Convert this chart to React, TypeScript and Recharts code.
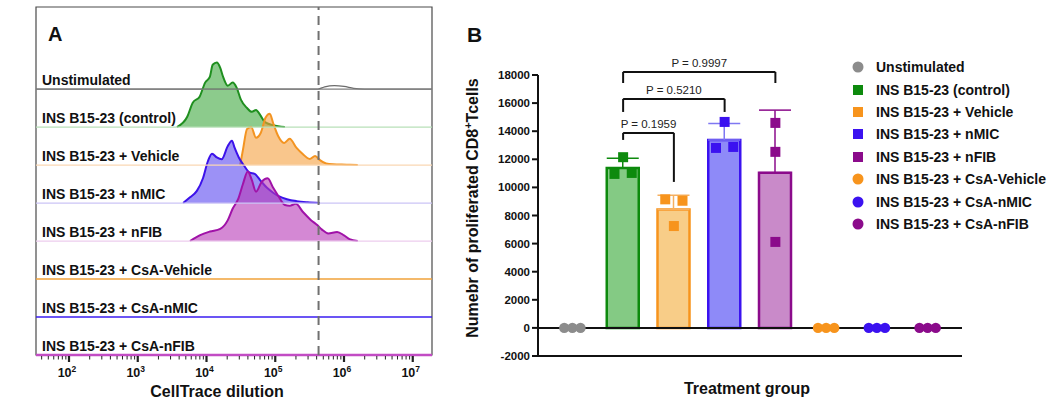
import React from "react";
import {
  ComposedChart, Area, XAxis, YAxis, ReferenceLine, ReferenceArea,
  Bar, ErrorBar, Scatter, Legend,
} from "recharts";

const FONT = "'Liberation Sans', Arial, Helvetica, sans-serif";

const groupNames = [
  "Unstimulated",
  "INS B15-23 (control)",
  "INS B15-23 + Vehicle",
  "INS B15-23 + nMIC",
  "INS B15-23 + nFIB",
  "INS B15-23 + CsA-Vehicle",
  "INS B15-23 + CsA-nMIC",
  "INS B15-23 + CsA-nFIB",
];

// ---- panel A: offset histograms, [log10 CellTrace, relative count]
const unstimHist = [[1.52, 0], [5.62, 0], [5.72, 0.06], [5.86, 0.09], [6.0, 0.07], [6.14, 0.02], [6.3, 0], [7.28, 0]];
const controlHist = [
  [3.57, 0], [3.72, 0.27], [3.8, 0.64], [3.9, 0.8], [3.98, 1.17], [4.05, 1.33], [4.09, 1.64], [4.15, 1.7],
  [4.2, 1.56], [4.24, 1.33], [4.31, 1.09], [4.38, 1.17], [4.44, 1.03], [4.5, 0.72], [4.59, 0.5], [4.66, 0.4],
  [4.72, 0.45], [4.78, 0.32], [4.85, 0.13], [4.97, 0.05], [5.14, 0],
];
const vehicleHist = [
  [4.49, 0], [4.53, 0.4], [4.59, 0.95], [4.65, 1.0], [4.72, 0.72], [4.79, 0.85], [4.86, 1.25], [4.92, 1.35],
  [4.97, 1.1], [5.04, 0.77], [5.13, 0.58], [5.21, 0.69], [5.31, 0.45], [5.4, 0.29], [5.5, 0.16], [5.58, 0.24],
  [5.65, 0.13], [5.74, 0.04], [5.84, 0.02], [6.04, 0.01], [6.2, 0],
];
const nmicHist = [
  [3.66, 0], [3.76, 0.15], [3.86, 0.32], [3.95, 0.66], [4.02, 1.1], [4.08, 1.3], [4.15, 1.2], [4.22, 1.15],
  [4.31, 1.5], [4.37, 1.64], [4.41, 1.45], [4.47, 1.2], [4.54, 1.0], [4.63, 0.8], [4.7, 0.77], [4.79, 0.58],
  [4.88, 0.4], [4.97, 0.27], [5.05, 0.18], [5.17, 0.1], [5.31, 0.05], [5.47, 0.02], [5.65, 0],
];
const nfibHist = [
  [3.76, 0], [3.9, 0.15], [4.05, 0.25], [4.2, 0.32], [4.31, 0.55], [4.38, 0.85], [4.46, 1.1], [4.53, 1.5],
  [4.6, 1.83], [4.66, 1.6], [4.72, 1.3], [4.8, 1.55], [4.89, 1.65], [4.97, 1.4], [5.04, 1.2], [5.14, 0.95],
  [5.21, 0.93], [5.3, 0.98], [5.4, 0.77], [5.52, 0.55], [5.61, 0.42], [5.68, 0.3], [5.77, 0.2], [5.9, 0.24],
  [6.0, 0.15], [6.08, 0.05], [6.2, 0],
];
const csaVehicleHist: number[][] = [];
const csaNmicHist: number[][] = [];
const csaNfibHist: number[][] = [];
const histograms = [unstimHist, controlHist, vehicleHist, nmicHist, nfibHist, csaVehicleHist, csaNmicHist, csaNfibHist];

const decadeTicks = [2, 3, 4, 5, 6, 7];
const minorDecades = [1, 2, 3, 4, 5, 6, 7];
const minorMultipliers = [2, 3, 4, 5, 6, 7, 8, 9];
const gateLog = 5.63;
const xMin = 1.52;
const xMax = 7.28;
const yTop = 9.16;

// ---- panel B
const barMeans = [null, 11380, 8420, 13380, 11050, null, null, null];
const barSd = [null, 700, 1030, 1160, 4450, null, null, null];
const replicates = [
  [0, 0, 0],
  [10960, 12150, 11030],
  [9150, 7250, 9050],
  [12810, 14660, 12880],
  [6120, 12530, 14590],
  [0, 0, 0],
  [0, 0, 0],
  [0, 0, 0],
];
const yTicksB = [-2000, 0, 2000, 4000, 6000, 8000, 10000, 12000, 14000, 16000, 18000];
const comparisons = [
  { label: "P = 0.1959", from: 1, to: 2, top: 13880, leftEnd: 13380, rightEnd: 10390 },
  { label: "P = 0.5210", from: 1, to: 3, top: 16300, leftEnd: 15370, rightEnd: 15370 },
  { label: "P = 0.9997", from: 1, to: 4, top: 18220, leftEnd: 17430, rightEnd: 17430 },
];

// styles
const histStyle = [
  { line: "#6b6b6b", fill: "none", base: "#808080", baseWidth: 1.2 },
  { line: "#1f8f1f", fill: "#3fa83f", base: "#b8e0b8", baseWidth: 1.2 },
  { line: "#f39422", fill: "#f5a040", base: "#fad7b3", baseWidth: 1.2 },
  { line: "#3c12ea", fill: "#5a48f0", base: "#cbc4f6", baseWidth: 1.2 },
  { line: "#a012a8", fill: "#b838b8", base: "#edcdee", baseWidth: 1.2 },
  { line: "#f0a23a", fill: "none", base: "#f0a23a", baseWidth: 1.6 },
  { line: "#3a1cf0", fill: "none", base: "#3a1cf0", baseWidth: 1.6 },
  { line: "#c24cc4", fill: "none", base: "#c24cc4", baseWidth: 2.6 },
];
const groupStyle = [
  { marker: "circle", color: "#8c8c8c", bar: "", err: "" },
  { marker: "square", color: "#0d8a0d", bar: "#84ca84", err: "#0d8a0d" },
  { marker: "square", color: "#f7941d", bar: "#f8cd88", err: "#f6b060" },
  { marker: "square", color: "#3b12f0", bar: "#8e8af8", err: "#7f78f2" },
  { marker: "square", color: "#8b0b8b", bar: "#c98ac9", err: "#8b0b8b" },
  { marker: "circle", color: "#f7941d", bar: "", err: "" },
  { marker: "circle", color: "#3b12f0", bar: "", err: "" },
  { marker: "circle", color: "#8b0b8b", bar: "", err: "" },
];
const jitterSteps = [-1, 0, 1];
const jitterWidth = [0.16, 0.17, 0.17, 0.17, 0, 0.16, 0.16, 0.16];

// tables built from the arrays above
const histTable = histograms
  .flatMap((pts, i) => pts.map(([x, h]) => ({ x, [`h${i}`]: 7 - i + h })))
  .sort((a, b) => a.x - b.x);

const logTicks = [
  ...decadeTicks,
  ...minorDecades.flatMap((d) => minorMultipliers.map((k) => d + Math.log10(k))),
].filter((t) => t >= xMin && t <= xMax).sort((a, b) => a - b);

const barTable = groupNames.map((group, i) => {
  const row: any = { group };
  if (barMeans[i] != null) {
    row[`b${i}`] = barMeans[i];
    row[`e${i}`] = [0, barSd[i]];
  }
  return row;
});

const LogTick = (props: any) => {
  const { x, y, payload } = props;
  const v = payload.value as number;
  const major = decadeTicks.includes(v);
  return (
    <g>
      <line x1={x} x2={x} y1={y + 1} y2={y + (major ? 7 : 4.5)} stroke="#222" strokeWidth={major ? 2.2 : 1} />
      {major && (
        <text x={x - 2} y={y + 22} textAnchor="middle" fontFamily={FONT} fontWeight="bold" fontSize={12.5} fill="#111">
          10<tspan dy={-5} fontSize={8.5}>{v}</tspan>
        </text>
      )}
    </g>
  );
};

const marker = (kind: string, color: string) => (props: any) => {
  const { cx, cy } = props;
  if (cx == null || cy == null) return <g />;
  return kind === "square"
    ? <rect x={cx - 5} y={cy - 5} width={10} height={10} fill={color} />
    : <circle cx={cx} cy={cy} r={5.2} fill={color} />;
};

const LegendList = () => (
  <div style={{ fontFamily: FONT, fontWeight: "bold", fontSize: 14, color: "#111" }}>
    {groupNames.map((name, i) => (
      <div key={name} style={{ display: "flex", alignItems: "center", height: 22.4, whiteSpace: "nowrap" }}>
        <svg width={16} height={16} style={{ marginRight: 10 }}>
          {groupStyle[i].marker === "square"
            ? <rect x={3} y={3} width={10} height={10} fill={groupStyle[i].color} />
            : <circle cx={8} cy={8} r={5.5} fill={groupStyle[i].color} />}
        </svg>
        <span>{name}</span>
      </div>
    ))}
  </div>
);

function PanelA() {
  return (
    <ComposedChart width={440} height={403} data={histTable} margin={{ top: 7, right: 8, left: 36, bottom: 0 }}>
      <ReferenceArea x1={xMin} x2={xMax} y1={0} y2={yTop} fill="none" stroke="#4a4a4a" strokeWidth={1.2} ifOverflow="visible" />
      {groupNames.map((name, i) => (
        <ReferenceLine
          key={`base${i}`}
          y={7 - i}
          stroke={histStyle[i].base}
          strokeWidth={histStyle[i].baseWidth}
          ifOverflow="visible"
          label={(p: any) => (
            <text x={p.viewBox.x + 6} y={p.viewBox.y - 4} fontFamily={FONT} fontWeight="bold" fontSize={14} fill="#111">
              {name}
            </text>
          )}
        />
      ))}
      {histograms.map((pts, i) =>
        pts.length ? (
          <Area
            key={`h${i}`}
            type="monotone"
            dataKey={`h${i}`}
            baseValue={7 - i}
            connectNulls
            stroke={histStyle[i].line}
            strokeWidth={i === 0 ? 1.3 : 2}
            fill={histStyle[i].fill}
            fillOpacity={0.6}
            dot={false}
            activeDot={false}
            isAnimationActive={false}
          />
        ) : null
      )}
      <ReferenceLine x={gateLog} stroke="#707070" strokeWidth={2} strokeDasharray="9 6" />
      <XAxis
        type="number" dataKey="x" domain={[xMin, xMax]} allowDataOverflow
        ticks={logTicks} interval={0} tick={(p: any) => <LogTick {...p} />}
        tickLine={false} tickSize={0} tickMargin={0} height={48}
        axisLine={false}
        label={() => (
          <text x={217} y={397} textAnchor="middle" fontFamily={FONT} fontWeight="bold" fontSize={16} fill="#111">
            CellTrace dilution
          </text>
        )}
      />
      <YAxis
        type="number" domain={[0, yTop]} allowDataOverflow width={0}
        tick={false} tickLine={false} axisLine={{ stroke: "#111", strokeWidth: 2 }}
        label={() => (
          <text x={18} y={198} transform="rotate(-90 18 198)" textAnchor="middle" fontFamily={FONT} fontWeight="bold" fontSize={16} fill="#111">
            Cell count
          </text>
        )}
      />
    </ComposedChart>
  );
}

function PanelB() {
  return (
    <ComposedChart width={610} height={403} data={barTable} margin={{ top: 75, right: 88, left: 40, bottom: 0 }}>
      <XAxis
        dataKey="group" type="category" padding={{ left: 9, right: 9 }}
        tick={false} tickLine={false} axisLine={{ stroke: "#111", strokeWidth: 2 }} height={47}
        label={() => (
          <text x={307} y={394} textAnchor="middle" fontFamily={FONT} fontWeight="bold" fontSize={16} fill="#111">
            Treatment group
          </text>
        )}
      />
      <XAxis xAxisId="num" type="number" dataKey="x" domain={[-0.5, 7.5]} allowDataOverflow padding={{ left: 9, right: 9 }} hide />
      <YAxis
        type="number" domain={[-2000, 18000]} ticks={yTicksB} interval={0} width={58}
        tick={{ fontFamily: FONT, fontWeight: "bold", fontSize: 11.5, fill: "#111" }}
        tickLine={{ stroke: "#111", strokeWidth: 2 }} tickSize={6}
        axisLine={{ stroke: "#111", strokeWidth: 2 }}
        label={() => (
          <text x={38} y={208} transform="rotate(-90 38 208)" textAnchor="middle" fontFamily={FONT} fontWeight="bold" fontSize={16} fill="#111">
            Numebr of proliferated CD8<tspan dy={-6} fontSize={11}>+</tspan><tspan dy={6}>Tcells</tspan>
          </text>
        )}
      />
      {barMeans.map((m, i) =>
        m != null ? (
          <Bar
            key={`b${i}`} dataKey={`b${i}`} stackId="s" barSize={32}
            fill={groupStyle[i].bar} stroke={groupStyle[i].color} strokeWidth={2.5}
            isAnimationActive={false}
          >
            <ErrorBar dataKey={`e${i}`} width={16} stroke={groupStyle[i].err} strokeWidth={1.5} direction="y" />
          </Bar>
        ) : null
      )}
      {replicates.map((vals, g) => (
        <Scatter
          key={`s${g}`} xAxisId="num" dataKey="y"
          data={vals.map((v, j) => ({ x: g + jitterSteps[j] * jitterWidth[g], y: v }))}
          shape={marker(groupStyle[g].marker, groupStyle[g].color)}
          isAnimationActive={false}
        />
      ))}
      <ReferenceLine y={0} stroke="#111" strokeWidth={2} />
      {comparisons.flatMap((c, k) => [
        <ReferenceLine key={`cl${k}`} xAxisId="num" ifOverflow="visible" stroke="#111" strokeWidth={2}
          segment={[{ x: c.from, y: c.leftEnd }, { x: c.from, y: c.top }]} />,
        <ReferenceLine key={`cr${k}`} xAxisId="num" ifOverflow="visible" stroke="#111" strokeWidth={2}
          segment={[{ x: c.to, y: c.rightEnd }, { x: c.to, y: c.top }]} />,
        <ReferenceLine key={`ct${k}`} xAxisId="num" ifOverflow="visible" stroke="#111" strokeWidth={2}
          segment={[{ x: c.from, y: c.top }, { x: c.to, y: c.top }]}
          label={{ value: c.label, position: "top", offset: 5, fontFamily: FONT, fontSize: 11.5, fill: "#222" }} />,
      ])}
      <Legend
        layout="vertical" align="center" verticalAlign="middle"
        wrapperStyle={{ position: "absolute", left: 410, top: 56, width: 200 }}
        content={() => <LegendList />}
      />
    </ComposedChart>
  );
}

export default function App() {
  return (
    <div style={{ position: "absolute", left: 0, top: 0, width: 1050, height: 403, background: "#fff", fontFamily: FONT }}>
      <div style={{ position: "absolute", left: 0, top: 0 }}>
        <PanelA />
      </div>
      <div style={{ position: "absolute", left: 440, top: 0 }}>
        <PanelB />
      </div>
      <div style={{ position: "absolute", left: 48, top: 24, fontSize: 20, lineHeight: "21px", fontWeight: "bold", color: "#111" }}>A</div>
      <div style={{ position: "absolute", left: 467, top: 24, fontSize: 21, lineHeight: "21px", fontWeight: "bold", color: "#111" }}>B</div>
    </div>
  );
}
